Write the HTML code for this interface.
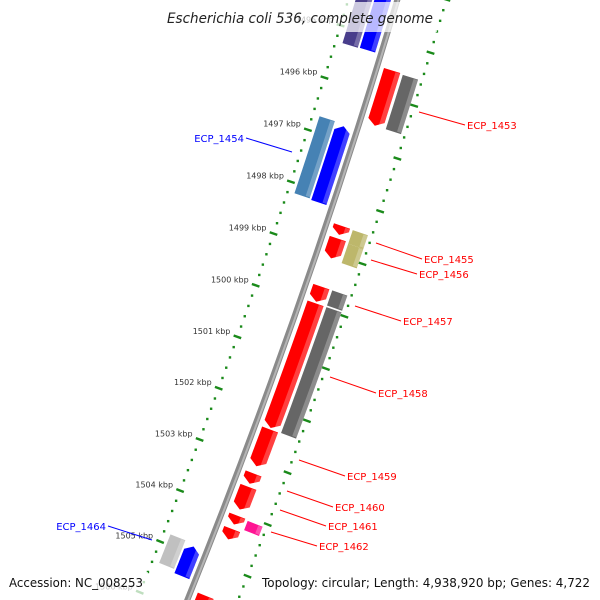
<!DOCTYPE html>
<html><head><meta charset="utf-8"><style>
html,body{margin:0;padding:0;background:#fff;width:600px;height:600px;overflow:hidden}
svg{display:block;overflow:hidden}
</style></head><body>
<svg id="map" width="600" height="600" viewBox="0 0 600 600" xmlns="http://www.w3.org/2000/svg" font-family="'DejaVu Sans','Liberation Sans',sans-serif">
<rect width="600" height="600" fill="#fff"/>
<g id="rings"></g>
<g id="backbone"></g>
<g id="feats"></g>
<g id="labels"></g>
<g id="overlay">
<rect x="163" y="2" width="274" height="30" fill="#fff" fill-opacity="0.72"/>
<text x="300" y="23" text-anchor="middle" font-size="14" font-style="italic" fill="#222" textLength="266" lengthAdjust="spacingAndGlyphs">Escherichia coli 536, complete genome</text>
<rect x="3" y="572" width="145" height="28" fill="#fff" fill-opacity="0.72"/>
<text x="9" y="587" font-size="12.5" fill="#111" textLength="134" lengthAdjust="spacingAndGlyphs">Accession: NC_008253</text>
<rect x="256" y="572" width="340" height="28" fill="#fff" fill-opacity="0.72"/>
<text x="262" y="587" font-size="12.5" fill="#111" textLength="328" lengthAdjust="spacingAndGlyphs">Topology: circular; Length: 4,938,920 bp; Genes: 4,722</text>
</g>
</svg>
<script>
// data (kbp)
var featStart = [1494.0, 1494.0, 1495.51, 1495.53, 1496.74, 1496.70, 1498.47, 1498.48, 1498.71, 1498.74, 1499.63, 1499.63, 1499.95, 1499.95, 1502.38, 1503.23, 1503.49, 1504.05, 1504.07, 1504.31, 1504.81, 1504.86, 1505.61, 1505.63];
var featEnd   = [1495.30, 1495.29, 1496.56, 1496.56, 1498.20, 1498.18, 1498.64, 1498.74, 1499.09, 1499.11, 1499.92, 1499.92, 1502.35, 1502.37, 1503.09, 1503.43, 1503.93, 1504.22, 1504.25, 1504.51, 1505.37, 1505.44, 1507.0, 1507.0];
var featTrack = ['R2','R1','F1','F2','R1','R2','F1','F2','F1','F2','F1','F2','F1','F2','F1','F1','F1','F1','F2','F1','R2','R1','F1','F2'];
var featStrand= [0,-1,1,0,-1,0,1,0,1,0,1,0,1,0,1,1,1,1,0,1,0,-1,1,0];
var featColor = ['#483d8b','#0000ff','#ff0000','#666666','#0000ff','#4682b4','#ff0000','#bdb76b','#ff0000','#bdb76b','#ff0000','#666666','#ff0000','#666666','#ff0000','#ff0000','#ff0000','#ff0000','#ff1493','#ff0000','#c0c0c0','#0000ff','#ff0000','#000080'];
var tickKbp = [1494,1495,1496,1497,1498,1499,1500,1501,1502,1503,1504,1505,1506];
var tickLabels = ['1494 kbp','1495 kbp','1496 kbp','1497 kbp','1498 kbp','1499 kbp','1500 kbp','1501 kbp','1502 kbp','1503 kbp','1504 kbp','1505 kbp','1506 kbp'];
var labelNames = ['ECP_1453','ECP_1454','ECP_1455','ECP_1456','ECP_1457','ECP_1458','ECP_1459','ECP_1460','ECP_1461','ECP_1462','ECP_1464'];

var NS='http://www.w3.org/2000/svg';
var CX=-6018, CY=-1908, RB=6693;
function ang(k){return 0.3034+(k-1496)*0.00823;}
function pt(k,r){var a=ang(k);return [CX+r*Math.cos(a), CY+r*Math.sin(a)];}
function mk(tag,attrs,parent){var e=document.createElementNS(NS,tag);for(var a in attrs)e.setAttribute(a,attrs[a]);parent.appendChild(e);return e;}
var trackR={F1:[RB+7,RB+24],F2:[RB+27,RB+43],R1:[RB-6,RB-22],R2:[RB-24,RB-40]};

// backbone
var bb=document.getElementById('backbone');
function arcPath(r,k1,k2){var p1=pt(k1,r),p2=pt(k2,r);return 'M'+p1[0]+','+p1[1]+' A'+r+','+r+' 0 0 1 '+p2[0]+','+p2[1];}
var b1=mk('path',{d:arcPath(RB,1493.5,1506),fill:'none',stroke:'#8a8a8a','stroke-width':6},bb);


var b2=mk('path',{d:arcPath(RB+1,1493.5,1506),fill:'none',stroke:'#b5b5b5','stroke-width':2},bb);



// tick rings
var rg=document.getElementById('rings');
var ringR=[RB-47,RB+47];
for(var ri=0;ri<2;ri++){
  for(var m=1493*5;m<=1506*5;m++){
    var k=m/5;
    if(m%5===0) continue;
    var p=pt(k,ringR[ri]);
    var d=mk('rect',{x:p[0]-1.2,y:p[1]-1.2,width:2.4,height:2.4,fill:'#1a8a1a'},rg);
    
    
  }
  for(var t=0;t<tickKbp.length;t++){
    var a=pt(tickKbp[t],ringR[ri]-4),b=pt(tickKbp[t],ringR[ri]+4);
    var ln=mk('line',{x1:a[0],y1:a[1],x2:b[0],y2:b[1],stroke:'#1a8a1a','stroke-width':2.4},rg);
    
    
    if(ri===0){
      var c=pt(tickKbp[t],ringR[0]);
      var tx=mk('text',{x:c[0]-7,y:c[1]-3,'text-anchor':'end','font-size':8,fill:'#333'},rg);
      tx.textContent=tickLabels[t];
      
      
    }
  }
}

// features
var fg=document.getElementById('feats');
function shape(k1,k2,r1,r2,strand){
  var ah=0.1, pts=[], n=16, i, k;
  var rm=(r1+r2)/2;
  var len=k2-k1; if(ah>len*0.6) ah=len*0.6;
  if(strand===1){
    for(i=0;i<=n;i++){k=k1+(k2-ah-k1)*i/n;pts.push(pt(k,r2));}
    pts.push(pt(k2,rm));
    for(i=n;i>=0;i--){k=k1+(k2-ah-k1)*i/n;pts.push(pt(k,r1));}
  } else if(strand===-1){
    pts.push(pt(k1,rm));
    for(i=0;i<=n;i++){k=k1+ah+(k2-k1-ah)*i/n;pts.push(pt(k,r2));}
    for(i=n;i>=0;i--){k=k1+ah+(k2-k1-ah)*i/n;pts.push(pt(k,r1));}
  } else {
    for(i=0;i<=n;i++){k=k1+(k2-k1)*i/n;pts.push(pt(k,r2));}
    for(i=n;i>=0;i--){k=k1+(k2-k1)*i/n;pts.push(pt(k,r1));}
  }
  return pts.map(function(p){return p[0].toFixed(2)+','+p[1].toFixed(2);}).join(' ');
}
for(var f=0;f<featStart.length;f++){
  var tr=trackR[featTrack[f]];
  var lo=Math.min(tr[0],tr[1]), hi=Math.max(tr[0],tr[1]);
  var poly=mk('polygon',{points:shape(featStart[f],featEnd[f],lo,hi,featStrand[f]),fill:featColor[f]},fg);
  
  
  var w=hi-lo;
  var hl=mk('polygon',{points:shape(featStart[f]+0.01,featEnd[f]-0.02,hi-w*0.28,hi,0),fill:'#fff','fill-opacity':0.25},fg);
  
  
}

// labels
var lg=document.getElementById('labels');
var labelLine=[[419,112,465,125],[292,152,246,138],[376,243,422,259],[371,260,417,274],[355,306,401,321],[330,377,376,393],[299,460,345,476],[287,491,333,507],[280,510,326,526],[271,532,317,546],[152,540,108,526]];
var labelColor=['#f00','#00f','#f00','#f00','#f00','#f00','#f00','#f00','#f00','#f00','#00f'];
for(var l=0;l<labelNames.length;l++){
  var L=labelLine[l];
  var li=mk('line',{x1:L[0],y1:L[1],x2:L[2],y2:L[3],stroke:labelColor[l],'stroke-width':1},lg);
  
  
  var left=L[2]<L[0];
  var te=mk('text',{x:left?L[2]-2:L[2]+2,y:L[3]+4,'text-anchor':left?'end':'start','font-size':10,fill:labelColor[l]},lg);
  te.textContent=labelNames[l];
  
  
}
</script>
</body></html>
